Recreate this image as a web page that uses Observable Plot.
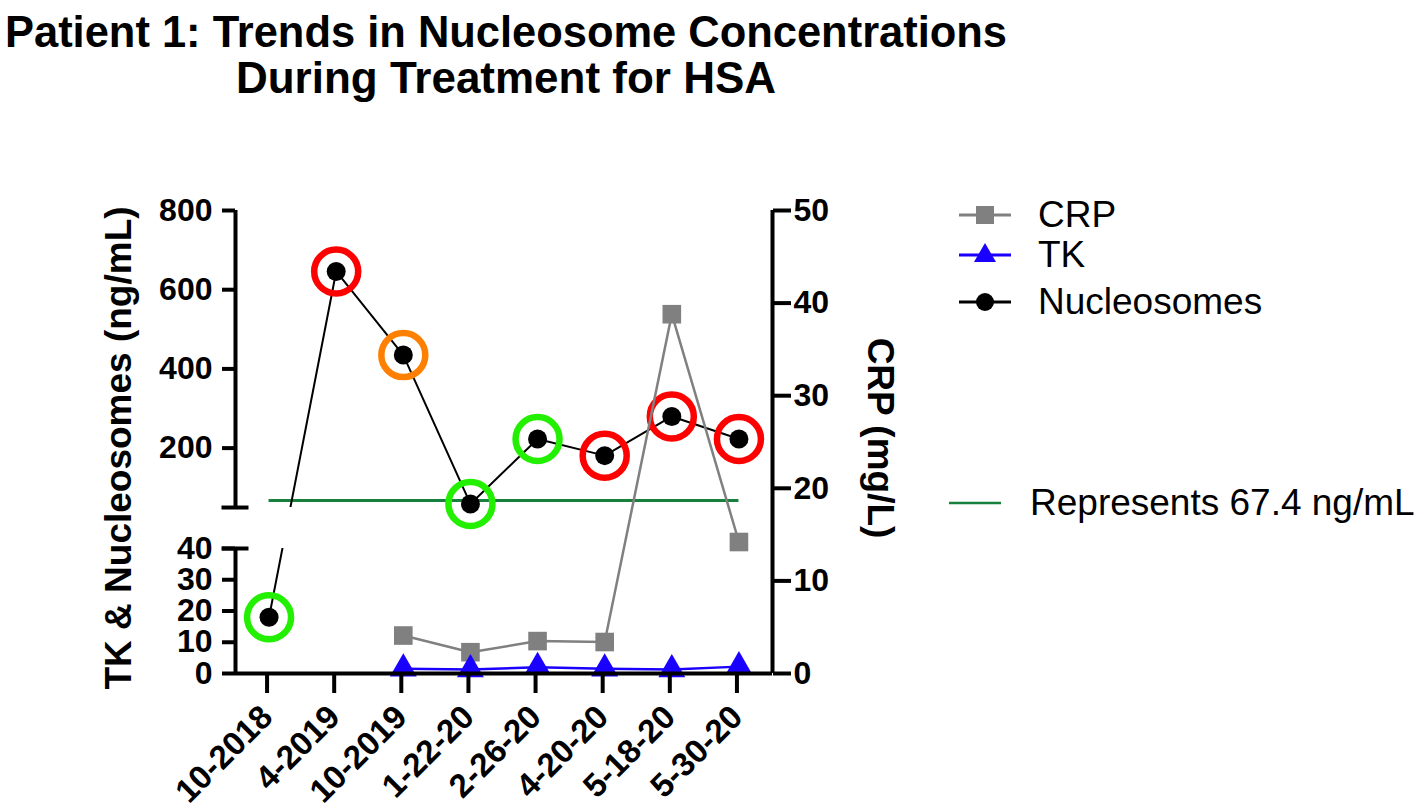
<!DOCTYPE html>
<html><head><meta charset="utf-8">
<script src="https://cdn.jsdelivr.net/npm/d3@7"></script>
<script src="https://cdn.jsdelivr.net/npm/@observablehq/plot@0.6"></script>
<style>
body{margin:0;background:#fff;font-family:"Liberation Sans",Arial,sans-serif;}
#wrap{position:relative;width:1418px;height:808px;overflow:hidden;background:#fff;}
#chart{position:absolute;left:0;top:0;}
#title{position:absolute;left:0;top:0;}
.leg{position:absolute;display:flex;align-items:center;font-size:37px;color:#000;white-space:nowrap;height:40px;}
</style></head><body>
<div id="wrap">
  <div id="chart"></div>
  <svg id="title" width="1418" height="110"></svg>
  <div id="legend"></div>
</div>
<script>
// ---- data ----
const categories = ["10-2018","4-2019","10-2019","1-22-20","2-26-20","4-20-20","5-18-20","5-30-20"];
const nucleosomes = [18, 646, 435, 59, 223, 181, 280, 223];
const ringStatus = ["low","high","moderate","low","low","high","high","high"];
const crp = [null, null, 4.1, 2.3, 3.5, 3.4, 38.8, 14.2];
const tk = [null, null, 1.5, 1.3, 2.0, 1.5, 1.3, 2.2];
const threshold = 67.4;
const lowerTicks = [0, 10, 20, 30, 40];
const upperTicks = [200, 400, 600, 800];
const crpTicks = [0, 10, 20, 30, 40, 50];
const axisBreak = [40, 50];
const leftMax = 800;
const crpMax = 50;
const titleLines = ["Patient 1: Trends in Nucleosome Concentrations", "During Treatment for HSA"];
const leftLabel = "TK & Nucleosomes (ng/mL)";
const rightLabel = "CRP (mg/L)";
const seriesNames = ["CRP", "TK", "Nucleosomes"];
const thresholdLabel = "Represents 67.4 ng/mL";

// ---- styles ----
const ringColor = {low: "#22f000", high: "#ff0000", moderate: "#ff8000"};
const C = {crp: "#808080", tk: "#1a00ff", nuc: "#000000", thr: "#17803d"};
const lowerFrac = 0.27, upperStartFrac = 0.3585; // share of axis height for broken left axis
const FONT = "'Liberation Sans', Arial, sans-serif";

// left (broken) axis values -> position on the shared vertical scale
const L = d3.scaleLinear()
  .domain([0, axisBreak[0], axisBreak[1], leftMax])
  .range([0, crpMax * lowerFrac, crpMax * upperStartFrac, crpMax]);

const rows = categories.map((c, i) => ({i, c, nuc: nucleosomes[i], status: ringStatus[i], crp: crp[i], tk: tk[i]}));
const crpRows = rows.filter(d => d.crp != null);
const tkRows = rows.filter(d => d.tk != null);
// segments of the nucleosome line that cross the axis break
const gaps = [];
for (let i = 0; i < rows.length - 1; i++) {
  const a = rows[i].nuc, b = rows[i + 1].nuc;
  if ((a <= axisBreak[0] && b >= axisBreak[1]) || (b <= axisBreak[0] && a >= axisBreak[1])) gaps.push({i0: i, i1: i + 1});
}
const n = categories.length;

const plot = Plot.plot({
  width: 1418, height: 808,
  marginLeft: 235, marginRight: 646, marginTop: 210, marginBottom: 135,
  style: {fontFamily: FONT, background: "transparent", color: "black", overflow: "visible"},
  x: {type: "linear", domain: [-0.5, n - 0.5]},
  y: {type: "linear", domain: [0, crpMax]},
  marks: [
    Plot.ruleY([L(threshold)], {x1: 0, x2: n - 1, stroke: C.thr, strokeWidth: 3}),
    Plot.line(rows, {x: "i", y: d => L(d.nuc), stroke: C.nuc, strokeWidth: 2}),
    Plot.rect(gaps, {x1: "i0", x2: "i1", y1: () => L(axisBreak[0]), y2: () => L(axisBreak[1]), fill: "white"}),
    Plot.dot(rows, {x: "i", y: d => L(d.nuc), r: 22, stroke: d => ringColor[d.status], strokeWidth: 6.5, fill: "none"}),
    Plot.dot(rows, {x: "i", y: d => L(d.nuc), r: 9.5, fill: C.nuc, stroke: "none"}),
    Plot.line(crpRows, {x: "i", y: "crp", stroke: C.crp, strokeWidth: 2.5}),
    Plot.dot(crpRows, {x: "i", y: "crp", symbol: "square", r: 10.5, fill: C.crp, stroke: "none"}),
    Plot.line(tkRows, {x: "i", y: d => L(d.tk), stroke: C.tk, strokeWidth: 2.5}),
    Plot.dot(tkRows, {x: "i", y: d => L(d.tk), symbol: "triangle", r: 10, fill: C.tk, stroke: "none"}),
    // axis lines
    Plot.ruleX([-0.5], {y1: 0, y2: L(axisBreak[0]), strokeWidth: 4}),
    Plot.ruleX([-0.5], {y1: L(axisBreak[1]), y2: L(leftMax), strokeWidth: 4}),
    Plot.ruleX([n - 0.5], {y1: 0, y2: crpMax, strokeWidth: 4}),
    Plot.ruleY([0], {x1: -0.5, x2: n - 0.5, strokeWidth: 4}),
    // left axis
    Plot.axisY(lowerTicks.concat(upperTicks).map(L), {anchor: "left", tickSize: 13, tickPadding: 10, strokeWidth: 4,
      fontSize: 32, fontWeight: "bold", tickFormat: v => String(Math.round(L.invert(v))), label: null}),
    Plot.axisY(axisBreak.map(L), {anchor: "left", tickSize: 27, dx: 13.5, strokeWidth: 4, tickFormat: () => "", label: null}),
    // right axis
    Plot.axisY(crpTicks, {anchor: "right", tickSize: 18, tickPadding: 3, strokeWidth: 4,
      fontSize: 32, fontWeight: "bold", label: null}),
    // x axis
    Plot.axisX(d3.range(n), {anchor: "bottom", tickSize: 20, strokeWidth: 4, tickRotate: -45, tickPadding: 18, dx: -2,
      tickFormat: i => categories[i], fontSize: 33, fontWeight: "bold", label: null}),
    // axis titles
    Plot.text([leftLabel], {frameAnchor: "left", dx: -116, dy: 6, rotate: -90, textAnchor: "middle", fontSize: 37, fontWeight: "bold", text: d => d}),
    Plot.text([rightLabel], {frameAnchor: "right", dx: 107, dy: -4, rotate: 90, textAnchor: "middle", fontSize: 37, fontWeight: "bold", text: d => d})
  ]
});
document.getElementById("chart").appendChild(plot);

// ---- title ----
const tsvg = d3.select("#title");
const tl = [{t: titleLines[0], y: 47, w: 1002}, {t: titleLines[1], y: 93, w: 540}];
tsvg.selectAll("text").data(tl).join("text")
  .attr("x", 506).attr("y", d => d.y).attr("text-anchor", "middle")
  .attr("font-family", FONT).attr("font-weight", "bold").attr("font-size", 45)
  .attr("textLength", d => d.w).attr("lengthAdjust", "spacingAndGlyphs")
  .text(d => d.t);

// ---- legend ----
const legend = d3.select("#legend");
const legItems = [
  {name: seriesNames[0], color: C.crp, sym: "square", y: 215, lx: 959, tx: 1038},
  {name: seriesNames[1], color: C.tk, sym: "triangle", y: 255, lx: 959, tx: 1038},
  {name: seriesNames[2], color: C.nuc, sym: "circle", y: 302, lx: 959, tx: 1038},
  {name: thresholdLabel, color: C.thr, sym: null, y: 503, lx: 949, tx: 1030}
];
legItems.forEach(it => {
  const row = legend.append("div").attr("class", "leg").style("left", it.lx + "px").style("top", (it.y - 20) + "px");
  const s = row.append("svg").attr("width", it.tx - it.lx).attr("height", 40);
  s.append("line").attr("x1", 0).attr("x2", 52).attr("y1", 20).attr("y2", 20)
    .attr("stroke", it.color).attr("stroke-width", it.sym ? 3 : 2.5);
  if (it.sym === "square") s.append("rect").attr("x", 26 - 9).attr("y", 11).attr("width", 18).attr("height", 18).attr("fill", it.color);
  if (it.sym === "triangle") s.append("path").attr("d", "M26,8 L37,27 L15,27 Z").attr("fill", it.color);
  if (it.sym === "circle") s.append("circle").attr("cx", 26).attr("cy", 20).attr("r", 9).attr("fill", it.color);
  row.append("span").text(it.name);
});
</script>
</body></html>
